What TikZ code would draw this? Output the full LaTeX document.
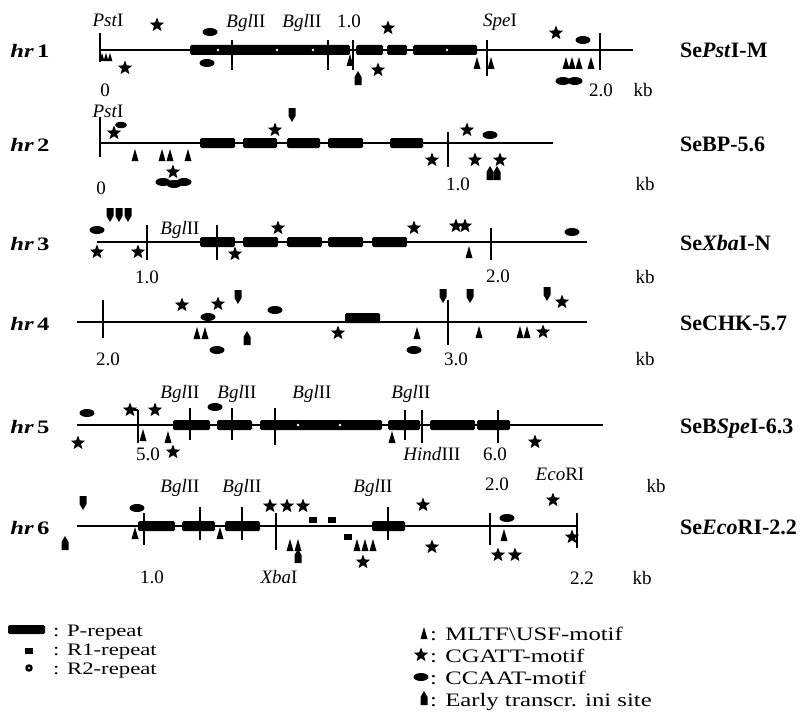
\documentclass[tikz,border=0pt]{standalone}
\usepackage{fontspec}
\setmainfont{Liberation Serif}
\newfontfamily\widefont{Liberation Serif}[FakeStretch=1.3]
\newcommand\pblk[3]{\fill[prep] (#1,#3-5) rectangle (#2,#3+5);}
\newcommand\rtick[3]{\draw[cut] (#1,#2) -- (#1,#3);}
\newcommand\rtwo[2]{\fill[white] (#1,#2) circle (1.4);}
\tikzset{
  dna/.style={line width=1.4pt},
  cut/.style={line width=1.7pt},
  prep/.style={fill=black, rounded corners=1.5pt},
  lbl/.style={font=\fontsize{19}{21}\selectfont, inner sep=0, anchor=base},
  clone/.style={font=\fontsize{22}{24}\selectfont\bfseries, inner sep=0, anchor=base west},
  hrlbl/.style={font=\widefont\fontsize{19}{21}\selectfont\bfseries, inner sep=0, anchor=base},
  legtxt/.style={font=\widefont\fontsize{19}{21}\selectfont, inner sep=0, anchor=base west},
  legsmall/.style={font=\widefont\fontsize{17.5}{19}\selectfont, inner sep=0, anchor=base west},
  pics/mtri/.style={code={\fill (-3.5,6) -- (0,-6) -- (3.5,6) -- cycle;}},
  pics/mstar/.style={code={\fill (-90:7.5) -- (-54:3.2) -- (-18:7.5) -- (18:3.2) -- (54:7.5)
      -- (90:3.2) -- (126:7.5) -- (162:3.2) -- (198:7.5) -- (234:3.2) -- cycle;}},
  pics/mell/.style={code={\fill (0,0) ellipse [x radius=7.5, y radius=4];}},
  pics/arrU/.style={code={\fill (-3.5,7) -- (-3.5,-1) -- (0,-7) -- (3.5,-1) -- (3.5,7) -- cycle;}},
  pics/arrD/.style={code={\fill (-3.5,-7) -- (-3.5,1) -- (0,7) -- (3.5,1) -- (3.5,-7) -- cycle;}},
  pics/rone/.style={code={\fill (-4,-3) rectangle (4,3);}},
}
\begin{document}
\begin{tikzpicture}[x=1pt,y=-1pt]
\useasboundingbox[fill=white] (0,0) rectangle (811,717);

% ---------------- hr 1 : SePstI-M ----------------
\draw[dna] (100,50) -- (633,50);
\pblk{190}{350}{50} \pblk{356}{383}{50} \pblk{387}{407}{50} \pblk{413}{477}{50}
\rtwo{218}{50} \rtwo{277}{50} \rtwo{313}{50} \rtwo{447}{50}
\rtick{100}{33}{62} \rtick{232}{40}{70} \rtick{328}{40}{70} \rtick{353}{40}{70}
\rtick{487}{40}{76} \rtick{600}{33}{70}
\pic[scale=0.7] at (102,57) {mtri}; \pic[scale=0.7] at (106,57) {mtri}; \pic[scale=0.7] at (110,57) {mtri};
\pic at (125,68) {mstar}; \pic at (157,25) {mstar};
\pic at (210,32) {mell}; \pic at (207,63) {mell};
\pic at (388,28) {mstar}; \pic at (350,60) {mtri}; \pic at (358,78) {arrU}; \pic at (378,70) {mstar};
\pic at (477,63) {mtri}; \pic at (491,63) {mtri};
\pic at (556,33) {mstar}; \pic at (583,40) {mell};
\pic at (566,63) {mtri}; \pic at (572,63) {mtri}; \pic at (579,63) {mtri}; \pic at (591,63) {mtri};
\pic at (563,81) {mell}; \pic at (575,81) {mell};
\node[lbl] (p1) at (108,27) {\textit{Pst}I};
\node[lbl] (b1a) at (246,28) {\textit{Bgl}II};
\node[lbl] (b1b) at (302,28) {\textit{Bgl}II};
\node[lbl] (k1a) at (349,28) {1.0};
\node[lbl] (s1) at (500,27) {\textit{Spe}I};
\node[lbl] (z1) at (105,96) {0};
\node[lbl] (k1b) at (601,96) {2.0};
\node[lbl] (kb1) at (643,96) {kb};
\node[hrlbl] (hr1) at (30,58) {\textit{hr}\,1};
\node[clone] (c1) at (680,58) {Se\textit{Pst}I-M};

% ---------------- hr 2 : SeBP-5.6 ----------------
\draw[dna] (100,143) -- (553,143);
\pblk{200}{235}{143} \pblk{243}{277}{143} \pblk{287}{320}{143} \pblk{328}{363}{143} \pblk{390}{423}{143}
\rtick{100}{117}{157} \rtick{448}{132}{167}
\pic[scale=0.8] at (121,125) {mell}; \pic at (114,133) {mstar};
\pic at (135,155) {mtri}; \pic at (162,155) {mtri}; \pic at (170,155) {mtri}; \pic at (188,155) {mtri};
\pic at (173,172) {mstar};
\pic at (163,182) {mell}; \pic at (174,184) {mell}; \pic at (184,182) {mell};
\pic at (275,130) {mstar}; \pic at (292,115) {arrD};
\pic at (432,160) {mstar}; \pic at (467,130) {mstar}; \pic at (490,135) {mell};
\pic at (475,160) {mstar}; \pic at (500,160) {mstar};
\pic at (490,173) {arrU}; \pic at (497,173) {arrU};
\node[lbl] (p2) at (108,117) {\textit{Pst}I};
\node[lbl] (z2) at (101,194) {0};
\node[lbl] (k2) at (458,190) {1.0};
\node[lbl] (kb2) at (645,190) {kb};
\node[hrlbl] (hr2) at (30,151) {\textit{hr}\,2};
\node[clone] (c2) at (680,151) {SeBP-5.6};

% ---------------- hr 3 : SeXbaI-N ----------------
\draw[dna] (97,242) -- (587,242);
\pblk{200}{235}{242} \pblk{243}{278}{242} \pblk{287}{322}{242} \pblk{328}{363}{242} \pblk{372}{407}{242}
\rtick{147}{225}{260} \rtick{217}{225}{260} \rtick{491}{228}{260}
\pic at (97,230) {mell};
\pic at (110,215) {arrD}; \pic at (119,215) {arrD}; \pic at (128,215) {arrD};
\pic at (97,252) {mstar}; \pic at (138,252) {mstar}; \pic at (235,254) {mstar};
\pic at (278,228) {mstar}; \pic at (414,228) {mstar};
\pic at (456,226) {mstar}; \pic at (465,226) {mstar};
\pic at (469,252) {mtri}; \pic at (572,232) {mell};
\node[lbl] (b3) at (180,234) {\textit{Bgl}II};
\node[lbl] (k3a) at (147,283) {1.0};
\node[lbl] (k3b) at (498,282) {2.0};
\node[lbl] (kb3) at (645,283) {kb};
\node[hrlbl] (hr3) at (30,250) {\textit{hr}\,3};
\node[clone] (c3) at (680,250) {Se\textit{Xba}I-N};

% ---------------- hr 4 : SeCHK-5.7 ----------------
\draw[dna] (77,322) -- (587,322);
\pblk{345}{380}{318}
\rtick{103}{300}{338} \rtick{448}{300}{345}
\pic at (182,305) {mstar}; \pic at (218,304) {mstar}; \pic at (238,297) {arrD};
\pic at (275,310) {mell}; \pic at (208,317) {mell};
\pic at (197,333) {mtri}; \pic at (205,333) {mtri};
\pic at (217,350) {mell}; \pic at (247,338) {arrU};
\pic at (338,333) {mstar}; \pic at (417,333) {mtri}; \pic at (414,350) {mell};
\pic at (443,296) {arrD}; \pic at (470,296) {arrD}; \pic at (547,294) {arrD};
\pic at (562,302) {mstar};
\pic at (479,332) {mtri}; \pic at (520,332) {mtri}; \pic at (527,332) {mtri};
\pic at (543,332) {mstar};
\node[lbl] (k4a) at (108,365) {2.0};
\node[lbl] (k4b) at (456,365) {3.0};
\node[lbl] (kb4) at (645,365) {kb};
\node[hrlbl] (hr4) at (30,330) {\textit{hr}\,4};
\node[clone] (c4) at (680,330) {SeCHK-5.7};

% ---------------- hr 5 : SeBSpeI-6.3 ----------------
\draw[dna] (77,425) -- (603,425);
\draw[dna] (130,410) -- (138,410);
\pblk{173}{210}{425} \pblk{217}{252}{425} \pblk{260}{382}{425} \pblk{388}{420}{425}
\pblk{430}{475}{425} \pblk{477}{510}{425}
\rtwo{298}{425} \rtwo{340}{425}
\rtick{138}{410}{443} \rtick{190}{408}{440} \rtick{232}{408}{440} \rtick{275}{408}{445}
\rtick{405}{410}{440} \rtick{422}{410}{443} \rtick{498}{410}{443}
\pic at (87,413) {mell}; \pic at (78,443) {mstar}; \pic at (130,410) {mstar};
\pic at (143,435) {mtri}; \pic at (155,410) {mstar}; \pic at (168,437) {mtri};
\pic at (173,452) {mstar}; \pic at (215,407) {mell};
\pic at (392,437) {mtri}; \pic at (535,442) {mstar};
\node[lbl] (b5a) at (180,398) {\textit{Bgl}II};
\node[lbl] (b5b) at (237,398) {\textit{Bgl}II};
\node[lbl] (b5c) at (312,398) {\textit{Bgl}II};
\node[lbl] (b5d) at (411,398) {\textit{Bgl}II};
\node[lbl] (k5a) at (148,460) {5.0};
\node[lbl] (h5) at (432,460) {\textit{Hind}III};
\node[lbl] (k5b) at (495,460) {6.0};
\node[lbl] (kb5) at (656,492) {kb};
\node[hrlbl] (hr5) at (30,433) {\textit{hr}\,5};
\node[clone] (c5) at (680,433) {SeB\textit{Spe}I-6.3};

% ---------------- hr 6 : SeEcoRI-2.2 ----------------
\draw[dna] (77,526) -- (577,526);
\pblk{138}{175}{526} \pblk{182}{215}{526} \pblk{225}{260}{526} \pblk{372}{405}{526}
\rtick{144}{513}{545} \rtick{200}{507}{540} \rtick{242}{507}{540} \rtick{276}{513}{550}
\rtick{388}{507}{540} \rtick{490}{513}{545} \rtick{577}{513}{548}
\pic at (83,503) {arrD}; \pic at (65,543) {arrU};
\pic at (137,508) {mell}; \pic at (135,533) {mtri}; \pic at (220,533) {mtri};
\pic at (270,506) {mstar}; \pic at (287,506) {mstar}; \pic at (303,506) {mstar};
\pic at (313,520) {rone}; \pic at (332,520) {rone}; \pic at (348,537) {rone};
\pic at (290,545) {mtri}; \pic at (298,545) {mtri}; \pic at (298,556) {arrU};
\pic at (357,545) {mtri}; \pic at (365,545) {mtri}; \pic at (373,545) {mtri};
\pic at (363,562) {mstar};
\pic at (423,505) {mstar}; \pic at (432,547) {mstar};
\pic at (507,518) {mell}; \pic at (504,535) {mtri};
\pic at (498,555) {mstar}; \pic at (515,555) {mstar};
\pic at (553,500) {mstar}; \pic at (572,537) {mstar};
\node[lbl] (b6a) at (180,492) {\textit{Bgl}II};
\node[lbl] (b6b) at (242,492) {\textit{Bgl}II};
\node[lbl] (b6c) at (373,492) {\textit{Bgl}II};
\node[lbl] (k6a) at (497,490) {2.0};
\node[lbl] (e6) at (560,480) {\textit{Eco}RI};
\node[lbl] (k6b) at (152,583) {1.0};
\node[lbl] (x6) at (279,583) {\textit{Xba}I};
\node[lbl] (k6c) at (582,584) {2.2};
\node[lbl] (kb6) at (642,584) {kb};
\node[hrlbl] (hr6) at (30,534) {\textit{hr}\,6};
\node[clone] (c6) at (680,534) {Se\textit{Eco}RI-2.2};

% ---------------- legend ----------------
\fill[prep] (8,625) rectangle (45,634);
\node[legsmall] (lp) at (53,636) {: P-repeat};
\pic at (29,651) {rone};
\node[legsmall] (lr1) at (53,655) {: R1-repeat};
\fill (29,668) circle (3.8); \fill[white] (29,668) circle (1.2);
\node[legsmall] (lr2) at (53,674) {: R2-repeat};
\pic at (424,633) {mtri};
\node[legtxt] (lm) at (430,640) {: MLTF\textbackslash USF-motif};
\pic at (421,655) {mstar};
\node[legtxt] (lc) at (430,662) {: CGATT-motif};
\pic at (421,677) {mell};
\node[legtxt] (la) at (430,684) {: CCAAT-motif};
\pic at (424,698) {arrU};
\node[legtxt] (le) at (430,706) {: Early transcr. ini site};
\end{tikzpicture}
\end{document}
